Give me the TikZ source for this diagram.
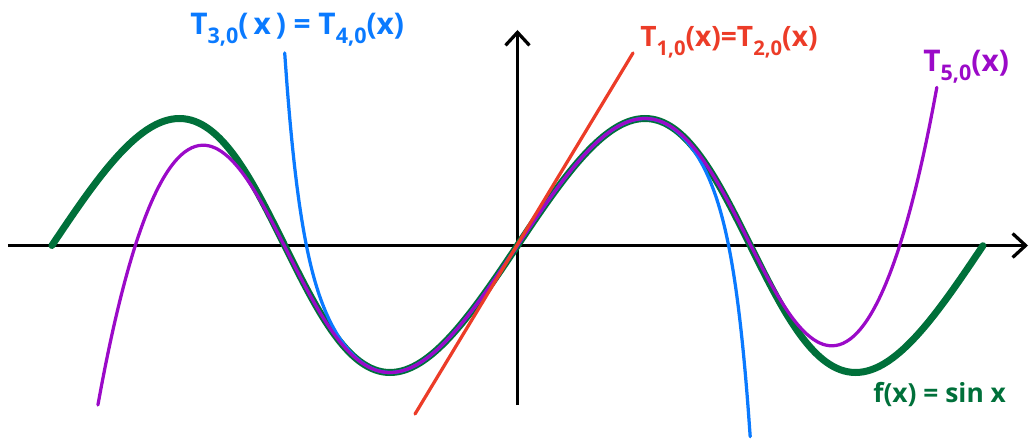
\documentclass[tikz,border=0pt]{standalone}
\usepackage{fontspec}
\setmainfont{Open Sans}
\usepackage{tikz}
\usetikzlibrary{arrows.meta}
\definecolor{sinegreen}{RGB}{0,112,58}
\definecolor{tblue}{RGB}{10,122,255}
\definecolor{tred}{RGB}{236,60,40}
\definecolor{tpurple}{RGB}{155,10,200}
\newcommand{\lowidx}[1]{\raisebox{-0.55ex}{\scalebox{0.72}{#1}}}

\begin{document}
\begin{tikzpicture}[
    x=1.482cm,y=2.54cm,
    axis/.style={line width=0.065cm,-{Straight Barb[length=0.26cm,width=0.48cm]}},
    sinecurve/.style={draw=sinegreen,line width=0.14cm,line cap=round},
    taylor/.style={line width=0.065cm,line cap=round},
    labelnode/.style={font=\fontsize{17}{20}\selectfont\bfseries,inner sep=0pt}
  ]
    \useasboundingbox (-10.35cm,-3.89cm) rectangle (10.23cm,4.91cm);

    % axes
    \draw[axis] (-10.19cm,0) -- (10.21cm,0);
    \draw[axis] (0,-3.19cm) -- (0,4.31cm);

    % f(x) = sin x and its Taylor polynomials
    \draw[sinecurve] plot[domain=-2*pi:2*pi,samples=241,smooth,variable=\t]
      ({\t+0.15*sin(\t r)},{sin(\t r)});
    \draw[taylor,tblue] plot[domain=-pi:pi,samples=161,smooth,variable=\t]
      ({\t+0.15*sin(\t r)},{sin(\t r)-1.516*(\t/pi)*((\t/pi)^2)^6});
    \draw[taylor,tpurple] plot[domain=-5.74:5.74,samples=241,smooth,variable=\t]
      ({\t+0.15*sin(\t r)},{sin(\t r)+4*(\t/(2*pi))*((\t/(2*pi))^2)^4});
    \draw[taylor,tred] (-1.383,-1.327) -- (1.559,1.516);

    % labels
    \node[labelnode,tblue,anchor=base west] (t34) at (-6.55cm,4.21cm)
      {T\lowidx{3,0}(\,x\,) = T\lowidx{4,0}(x)};
    \node[labelnode,tred,anchor=base west,font=\fontsize{16}{19}\selectfont\bfseries] (t12) at (2.45cm,3.97cm)
      {T\lowidx{1,0}(x)=T\lowidx{2,0}(x)};
    \node[labelnode,tpurple,anchor=base west] (t5) at (8.11cm,3.47cm)
      {T\lowidx{5,0}(x)};
    \node[labelnode,sinegreen,anchor=base west,font=\fontsize{15}{18}\selectfont\bfseries] (fx) at (7.11cm,-3.13cm)
      {f(x) = sin x};
\end{tikzpicture}
\end{document}
